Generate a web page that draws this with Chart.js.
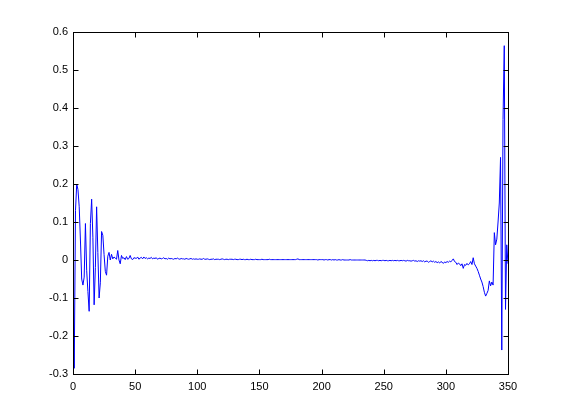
<!DOCTYPE html>
<html>
<head>
  <script src="https://cdn.jsdelivr.net/npm/chart.js@4"></script>
  <style>
    body { margin: 0; background: #fff; }
    #wrap { width: 561px; height: 420px; }
  </style>
</head>
<body>
  <div id="wrap"><canvas id="myChart"></canvas></div>
  <script>
    // values, sample index 0..350
    const values = [
      // 0-40
      -0.105, -0.285, 0.13, 0.20, 0.185, 0.14, 0.05, -0.05, -0.066, -0.045,
      0.096, -0.027, -0.083, -0.135, 0.096, 0.16, 0.06, -0.118, -0.02, 0.14,
      0.02, -0.10, -0.06, 0.075, 0.065, 0.014, -0.03, -0.04, 0.01, 0.02,
      0.00, 0.015, 0.003, 0.008, 0.005, 0.002, 0.025, 0.0, -0.01, 0.012,
      0.004,
      // 41-286
      0.006, 0.001, 0.009, 0.002, 0.004, 0.012, 0.003, 0.001, 0.006, 0.005,
      0.004, 0.008, 0.002, 0.005, 0.007, 0.003, 0.008, 0.004, 0.006, 0.003,
      0.005, 0.004, 0.007, 0.003, 0.005, 0.004, 0.006, 0.002, 0.004, 0.005,
      0.003, 0.004, 0.006, 0.003, 0.004, 0.002, 0.005, 0.003, 0.004, 0.003,
      0.002, 0.004, 0.003, 0.005, 0.003, 0.002, 0.004, 0.003, 0.003, 0.002,
      0.004, 0.003, 0.002, 0.003, 0.004, 0.002, 0.003, 0.002, 0.003, 0.002,
      0.002, 0.003, 0.002, 0.002, 0.004, 0.002, 0.002, 0.003, 0.002, 0.001,
      0.002, 0.002, 0.003, 0.001, 0.002, 0.002, 0.002, 0.001, 0.002, 0.003,
      0.002, 0.001, 0.002, 0.002, 0.001, 0.002, 0.002, 0.002, 0.001, 0.002,
      0.002, 0.001, 0.001, 0.002, 0.002, 0.001, 0.002, 0.001, 0.001, 0.002,
      0.001, 0.001, 0.002, 0.001, 0.001, 0.001, 0.002, 0.001, 0.001, 0.001,
      0.001, 0.002, 0.001, 0.001, 0.001, 0.001, 0.001, 0.002, 0.001, 0.001,
      0.001, 0.001, 0.001, 0.001, 0.001, 0.001, 0.001, 0.001, 0.001, 0.001,
      0.001, 0.001, 0.001, 0.001, 0.001, 0.001, 0.001, 0.001, 0.001, 0.002,
      0.003, 0.001, 0.001, 0.001, 0.001, 0.001, 0.001, 0.001, 0.001, 0.001,
      0.001, 0.001, 0.001, 0.001, 0.001, 0.001, 0.000, 0.001, 0.001, 0.001,
      0.001, 0.000, 0.001, 0.001, 0.000, 0.001, 0.001, 0.000, 0.001, 0.000,
      0.001, 0.000, 0.000, 0.001, 0.000, 0.000, 0.001, 0.000, 0.000, 0.000,
      0.000, 0.000, 0.001, 0.000, 0.000, 0.000, 0.000, 0.000, 0.000, 0.000,
      0.000, 0.000, 0.000, 0.000, 0.000, -0.001, -0.002, -0.001, -0.002, -0.001,
      -0.002, -0.001, -0.002, -0.001, -0.001, -0.002, -0.001, -0.002, -0.001, -0.001,
      -0.002, -0.001, -0.002, -0.002, -0.001, -0.002, -0.001, -0.002, -0.001, -0.002,
      -0.001, -0.002, -0.002, -0.001, -0.002, -0.001, -0.002, -0.003, -0.001, -0.002,
      -0.002, -0.003, -0.002, -0.001, -0.003, -0.002, -0.004, -0.002, -0.003, -0.002,
      -0.004, -0.002, -0.005, -0.003, -0.003, -0.006,
      // 287-350
      -0.004, -0.002, -0.005, -0.003, -0.006, -0.004, -0.007, -0.005, -0.008, -0.004,
      -0.006, -0.009, -0.005, -0.007, -0.004, -0.006, -0.003, -0.005, -0.001, 0.003,
      -0.004, -0.006, -0.012, -0.008, -0.010, -0.015, -0.010, -0.022, -0.012, -0.014,
      -0.009, -0.013, -0.010, -0.004, -0.012, 0.006, -0.010, -0.016, -0.022, -0.030,
      -0.040, -0.050, -0.058, -0.070, -0.085, -0.095, -0.088, -0.080, -0.055, -0.068,
      -0.058, -0.066, 0.072, 0.040, 0.055, 0.100, 0.150, 0.270, -0.237, 0.370,
      0.564, -0.130, 0.040, -0.010, -0.105
    ];
    const xIndex = values.map((v, i) => i);
    const yTicks = [-0.3, -0.2, -0.1, 0, 0.1, 0.2, 0.3, 0.4, 0.5, 0.6];
    const xTicks = [0, 50, 100, 150, 200, 250, 300, 350];

    // MATLAB style box with inward ticks on all four sides
    const matlabBox = {
      id: 'matlabBox',
      afterDraw(chart) {
        const ctx = chart.ctx;
        const a = chart.chartArea;
        const xs = chart.scales.x, ys = chart.scales.y;
        const L = Math.round(a.left) + 0.5, R = Math.round(a.right) + 0.5;
        const T = Math.round(a.top) + 0.5, B = Math.round(a.bottom) + 0.5;
        ctx.save();
        ctx.strokeStyle = '#000';
        ctx.lineWidth = 1;
        ctx.strokeRect(L, T, R - L, B - T);
        ctx.beginPath();
        yTicks.forEach(v => {
          const y = Math.round(ys.getPixelForValue(v)) + 0.5;
          ctx.moveTo(L, y); ctx.lineTo(L + 5, y);
          ctx.moveTo(R, y); ctx.lineTo(R - 5, y);
        });
        xTicks.forEach(v => {
          const x = Math.round(xs.getPixelForValue(v)) + 0.5;
          ctx.moveTo(x, B); ctx.lineTo(x, B - 5);
          ctx.moveTo(x, T); ctx.lineTo(x, T + 5);
        });
        ctx.stroke();
        ctx.restore();
      }
    };

    let ctx = document.getElementById('myChart').getContext('2d');
    let chart = new Chart(ctx, {
      type: 'line',
      data: {
        labels: xIndex,
        datasets: [{
          data: values.map((v, i) => ({ x: xIndex[i], y: v })),
          borderColor: '#0000ff',
          borderWidth: 1,
          pointRadius: 0,
          tension: 0,
          fill: false
        }]
      },
      options: {
        responsive: true,
        maintainAspectRatio: false,
        animation: false,
        layout: { padding: { top: 32, right: 53, left: 0, bottom: 0 } },
        plugins: { legend: { display: false }, tooltip: { enabled: false } },
        scales: {
          x: {
            type: 'linear',
            min: 0, max: 350,
            afterBuildTicks: s => { s.ticks = xTicks.map(v => ({ value: v })); },
            afterFit: s => { s.height = 46; },
            grid: { display: false, drawTicks: false },
            border: { display: false },
            ticks: {
              padding: 6,
              maxRotation: 0,
              color: '#000',
              font: { family: 'Liberation Sans', size: 11 }
            }
          },
          y: {
            min: -0.3, max: 0.6,
            afterBuildTicks: s => { s.ticks = yTicks.map(v => ({ value: v })); },
            afterFit: s => { s.width = 73; },
            grid: { display: false, drawTicks: false },
            border: { display: false },
            ticks: {
              padding: 5,
              color: '#000',
              font: { family: 'Liberation Sans', size: 11 },
              callback: v => String(Number(v.toFixed(1)))
            }
          }
        }
      },
      plugins: [matlabBox]
    });
  </script>
</body>
</html>
